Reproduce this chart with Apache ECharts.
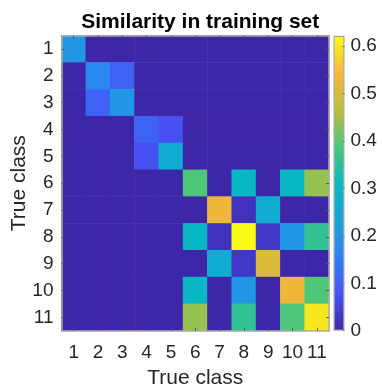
<!DOCTYPE html>
<html>
<head>
<meta charset="utf-8">
<script src="https://cdn.jsdelivr.net/npm/echarts@6/dist/echarts.min.js"></script>
<style>
  html, body { margin: 0; padding: 0; background: #fff; }
  #chart { width: 382px; height: 386px; }
</style>
</head>
<body>
<div id="chart"></div>
<script>
// 类别
const classes = ['1', '2', '3', '4', '5', '6', '7', '8', '9', '10', '11']

// 相似度矩阵 (行 = y, 列 = x)
const similarity = [
  [0.20, 0, 0, 0, 0, 0, 0, 0, 0, 0, 0],
  [0, 0.17, 0.105, 0, 0, 0, 0, 0, 0, 0, 0],
  [0, 0.105, 0.20, 0, 0, 0, 0, 0, 0, 0, 0],
  [0, 0, 0, 0.105, 0.075, 0, 0, 0, 0, 0, 0],
  [0, 0, 0, 0.075, 0.26, 0, 0, 0, 0, 0, 0],
  [0, 0, 0, 0, 0, 0.39, 0, 0.30, 0, 0.30, 0.44],
  [0, 0, 0, 0, 0, 0, 0.53, 0.02, 0.26, 0, 0],
  [0, 0, 0, 0, 0, 0.30, 0.02, 0.622, 0.03, 0.20, 0.36],
  [0, 0, 0, 0, 0, 0, 0.26, 0.03, 0.505, 0, 0],
  [0, 0, 0, 0, 0, 0.30, 0, 0.20, 0, 0.53, 0.39],
  [0, 0, 0, 0, 0, 0.44, 0, 0.36, 0, 0.39, 0.60],
]

// colorbar 刻度
const colorbarTicks = [0, 0.1, 0.2, 0.3, 0.4, 0.5, 0.6]
const colorMax = 0.622

// parula 色阶
const parula = ['#3E26A8', '#4753F4', '#2D80F5', '#16A6D9', '#06BAC0', '#4CC77A', '#BDBF3B', '#FAB73A', '#F9FB15']

const chart = echarts.init(document.getElementById('chart'), null, { renderer: 'canvas' })

const heatData = []
similarity.forEach((row, y) => {
  row.forEach((v, x) => {
    heatData.push([x, y, v])
  })
})

const fontFamily = 'Arial, "Liberation Sans", Helvetica, sans-serif'
const frameColor = '#a8a8a8'
const textColor = '#262626'

// 渐变（上黄下蓝）
const gradStops = parula.map((c, i) => ({ offset: 1 - i / (parula.length - 1), color: c }))

const plot = { left: 61.5, top: 35.7, width: 267.5, height: 295, outerBoundsMode: 'none' }

const option = {
  animation: false,
  textStyle: { fontFamily },
  title: {
    text: 'Similarity in training set',
    left: plot.left + plot.width / 2,
    textAlign: 'center',
    top: 7,
    textStyle: { fontSize: 21, fontWeight: 'bold', color: '#000', fontFamily },
  },
  grid: [
    plot,
    { left: 333.5, top: plot.top, width: 11, height: plot.height, outerBoundsMode: 'none' },
  ],
  xAxis: [
    {
      type: 'category',
      data: classes,
      gridIndex: 0,
      position: 'bottom',
      z: 10,
      name: 'True class',
      nameLocation: 'middle',
      nameGap: 35,
      nameTextStyle: { fontSize: 21, color: textColor },
      axisLine: { show: true, lineStyle: { color: frameColor, width: 1.5 } },
      axisTick: { show: true, inside: true, alignWithLabel: true, length: 3, lineStyle: { color: '#555' } },
      axisLabel: { fontSize: 19, color: textColor, margin: 13, interval: 0 },
      splitLine: { show: false },
    },
    {
      type: 'category',
      data: classes,
      gridIndex: 0,
      position: 'top',
      z: 10,
      axisLine: { show: true, lineStyle: { color: frameColor, width: 1.5 } },
      axisTick: { show: true, inside: true, alignWithLabel: true, length: 3, lineStyle: { color: '#555' } },
      axisLabel: { show: false },
    },
    {
      type: 'category',
      data: ['c'],
      gridIndex: 1,
      show: false,
    },
  ],
  yAxis: [
    {
      type: 'category',
      data: classes,
      gridIndex: 0,
      inverse: true,
      position: 'left',
      z: 10,
      name: 'True class',
      nameLocation: 'middle',
      nameGap: 32,
      nameMoveOverlap: false,
      nameTextStyle: { fontSize: 21, color: textColor },
      axisLine: { show: true, lineStyle: { color: frameColor, width: 1.5 } },
      axisTick: { show: true, inside: true, alignWithLabel: true, length: 3, lineStyle: { color: '#555' } },
      axisLabel: { fontSize: 19, color: textColor, margin: 8, interval: 0 },
    },
    {
      type: 'category',
      data: classes,
      gridIndex: 0,
      inverse: true,
      position: 'right',
      z: 10,
      axisLine: { show: true, lineStyle: { color: frameColor, width: 1.5 } },
      axisTick: { show: true, inside: true, alignWithLabel: true, length: 3, lineStyle: { color: '#555' } },
      axisLabel: { show: false },
    },
    {
      type: 'value',
      gridIndex: 1,
      min: 0,
      max: colorMax,
      interval: 0.1,
      position: 'right',
      z: 10,
      axisLine: { show: false },
      axisTick: { show: true, inside: true, length: 2, lineStyle: { color: '#777' } },
      axisLabel: {
        fontSize: 19,
        color: textColor,
        margin: 6,
        showMaxLabel: false,
        formatter: (v) => (colorbarTicks.some((t) => Math.abs(t - v) < 1e-6) ? String(+v.toFixed(1)) : ''),
      },
      splitLine: { show: false },
    },
  ],
  visualMap: {
    show: false,
    type: 'continuous',
    min: 0,
    max: colorMax,
    seriesIndex: 0,
    inRange: { color: parula },
  },
  series: [
    {
      type: 'heatmap',
      xAxisIndex: 0,
      yAxisIndex: 0,
      data: heatData,
      itemStyle: { borderWidth: 0 },
      emphasis: { disabled: true },
    },
    {
      type: 'bar',
      xAxisIndex: 2,
      yAxisIndex: 2,
      data: [colorMax],
      barWidth: '100%',
      itemStyle: {
        color: new echarts.graphic.LinearGradient(0, 0, 0, 1, gradStops),
        borderColor: frameColor,
        borderWidth: 1.2,
      },
      silent: true,
    },
  ],
}

chart.setOption(option)
</script>
</body>
</html>
